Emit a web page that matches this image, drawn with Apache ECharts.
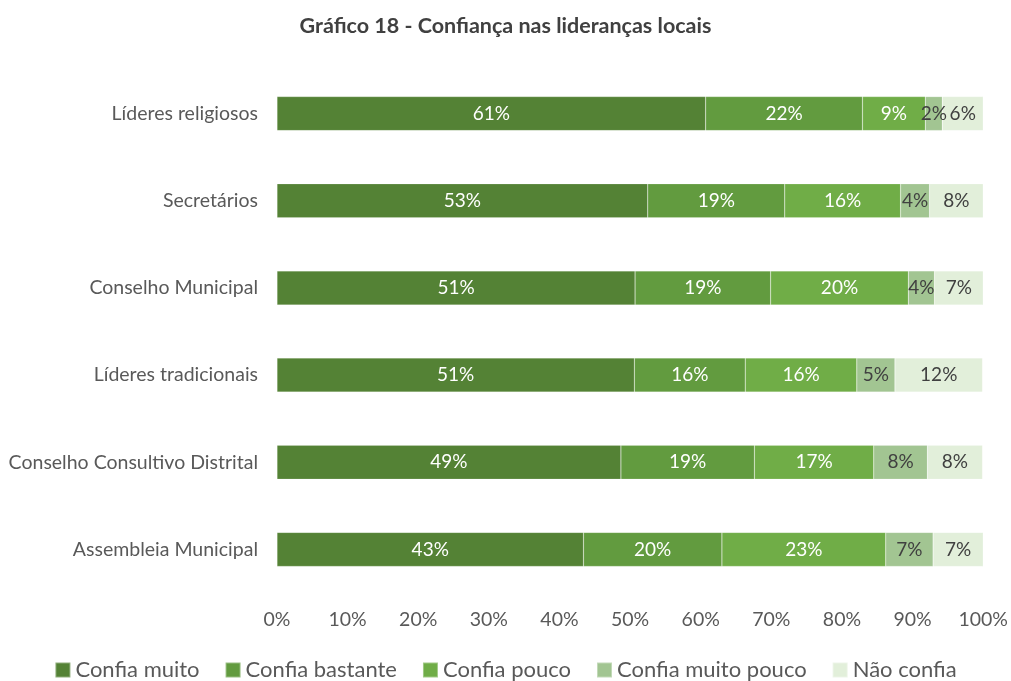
<!DOCTYPE html>
<html><head><meta charset="utf-8">
<script src="https://cdn.jsdelivr.net/npm/echarts@6/dist/echarts.min.js"></script>
<style>html,body{margin:0;padding:0;background:#fff}#c{width:1011px;height:681px}</style>
</head><body><div id="c"></div>
<script>
const categories = ['Líderes religiosos','Secretários','Conselho Municipal','Líderes tradicionais','Conselho Consultivo Distrital','Assembleia Municipal'];
const seriesNames = ['Confia muito','Confia bastante','Confia pouco','Confia muito pouco','Não confia'];
const confiaMuito = [60.7, 52.5, 50.7, 50.6, 48.7, 43.4];
const confiaBastante = [22.2, 19.4, 19.2, 15.7, 18.9, 19.6];
const confiaPouco = [8.9, 16.4, 19.5, 15.8, 16.9, 23.2];
const confiaMuitoPouco = [2.4, 4.1, 3.7, 5.4, 7.6, 6.7];
const naoConfia = [5.8, 7.6, 6.9, 12.4, 7.8, 7.1];
const xTicks = [0,10,20,30,40,50,60,70,80,90,100];

const colors = ['#548235','#629b3f','#70ad47','#a2c592','#e2efda'];
const labelColors = ['#ffffff','#ffffff','#ffffff','#404040','#404040'];
const FONT = 'Lato';
const data = [confiaMuito, confiaBastante, confiaPouco, confiaMuitoPouco, naoConfia];

const chart = echarts.init(document.getElementById('c'));
chart.setOption({
  animation:false,
  textStyle:{fontFamily:FONT},
  title:{text:'Gráfico 18 - Confiança nas lideranças locais', left:'center', top:10,
    textStyle:{fontFamily:FONT, fontSize:21.5, fontWeight:'bold', color:'#404040'}},
  legend:{bottom:-5, left:'center', itemWidth:15, itemHeight:15, itemGap:25, itemTextGap:4, icon:'rect',
    textStyle:{fontFamily:FONT, fontSize:22, color:'#595959'}, data:seriesNames},
  grid:{left:277, right:24, top:70, bottom:88, containLabel:false},
  xAxis:{type:'value', min:0, max:100, interval:10,
    axisLabel:{formatter:v=>xTicks.includes(v)?v+'%':'', fontFamily:FONT, fontSize:19.5, color:'#595959', margin:17},
    splitLine:{show:false}, axisLine:{show:false}, axisTick:{show:false}},
  yAxis:{type:'category', data:categories, inverse:true,
    axisLabel:{fontFamily:FONT, fontSize:19.5, color:'#595959', margin:19},
    axisLine:{show:false}, axisTick:{show:false}},
  series: seriesNames.map((n,i)=>({
    name:n, type:'bar', stack:'t', barWidth:34, data:data[i],
    itemStyle:{color:colors[i], borderColor:'rgba(255,255,255,0.35)', borderWidth:0.5},
    label:{show:true, position:'inside', formatter:p=>Math.round(p.value)+'%',
      fontFamily:FONT, fontSize:19, color:labelColors[i]}
  }))
});
</script></body></html>
